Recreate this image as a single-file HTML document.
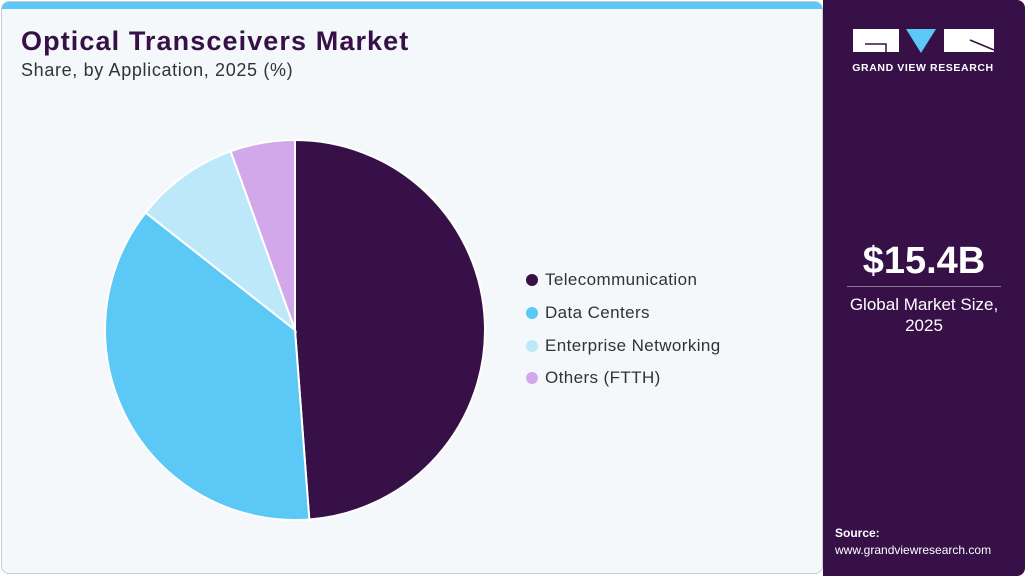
<!DOCTYPE html>
<html><head><meta charset="utf-8"><style>
body{margin:0;width:1025px;height:576px;overflow:hidden;background:#fff;font-family:"Liberation Sans",sans-serif;position:relative}
#left{position:absolute;left:1px;top:1px;width:822px;height:573px;background:#f4f8fb;border:1px solid #c9cdd2;border-radius:8px;overflow:hidden;box-sizing:border-box}
#topbar{position:absolute;left:0;top:0;width:100%;height:7px;background:#5bc8f5}
#right{position:absolute;left:823px;top:0;width:202px;height:576px;background:#361046;border-radius:0 8px 8px 0}
h1{position:absolute;left:21px;top:26px;margin:0;font-size:27px;font-weight:bold;color:#361046;letter-spacing:1.1px}
#sub{position:absolute;left:21px;top:60px;font-size:18px;color:#333;letter-spacing:0.65px}
.leg{position:absolute;left:526px;font-size:17px;color:#333;letter-spacing:0.4px}
.leg span{display:inline-block;width:12px;height:12px;border-radius:50%;margin-right:7px;vertical-align:-1px}
</style></head><body>
<div id="left">
<div id="topbar"></div>
</div>
<h1>Optical Transceivers Market</h1>
<div id="sub">Share, by Application, 2025 (%)</div>
<svg id="pie" width="823" height="576" style="position:absolute;left:0;top:0"></svg>
<div class="leg" style="top:270px"><span style="background:#361046"></span>Telecommunication</div>
<div class="leg" style="top:303px"><span style="background:#5bc8f5"></span>Data Centers</div>
<div class="leg" style="top:336px"><span style="background:#bde8f9"></span>Enterprise Networking</div>
<div class="leg" style="top:368px"><span style="background:#d3a8ea"></span>Others (FTTH)</div>
<div id="right">
<svg width="202" height="80">
<rect x="30" y="29" width="46" height="23" fill="#fff"/>
<path d="M42 44 H63 V52" stroke="#361046" stroke-width="1.5" fill="none"/>
<polygon points="83,29 113,29 98,53" fill="#5bc8f5"/>
<rect x="121" y="29" width="50" height="23" fill="#fff"/>
<path d="M147 40 L171 50" stroke="#361046" stroke-width="1.5"/>
<text x="100" y="71" text-anchor="middle" fill="#fff" font-size="10.5" font-weight="bold" letter-spacing="0.6" font-family="Liberation Sans">GRAND VIEW RESEARCH</text>
</svg>
<div style="position:absolute;left:0;width:202px;top:240px;text-align:center;color:#fff;font-size:38px;font-weight:bold">$15.4B</div>
<div style="position:absolute;left:24px;width:154px;top:286px;border-top:1px solid #8a7396"></div>
<div style="position:absolute;left:0;width:202px;top:294px;text-align:center;color:#fff;font-size:17px;line-height:21px">Global Market Size,<br>2025</div>
<div style="position:absolute;left:12px;top:526px;color:#fff;font-size:12px;font-weight:bold">Source:</div>
<div style="position:absolute;left:12px;top:543px;color:#fff;font-size:12px">www.grandviewresearch.com</div>
</div>
<script>
const categories=["Telecommunication","Data Centers","Enterprise Networking","Others (FTTH)"];
const values=[48.8,36.8,8.9,5.5];
const colors=["#361046","#5bc8f5","#bde8f9","#d3a8ea"];
const svg=document.getElementById('pie');
const cx=295,cy=330,r=190;
const total=values.reduce((a,b)=>a+b,0);
let a0=0;
function pt(a){return [cx+r*Math.sin(a),cy-r*Math.cos(a)];}
values.forEach((v,i)=>{
 const a1=a0+v/total*2*Math.PI;
 const p0=pt(a0),p1=pt(a1);
 const large=(a1-a0)>Math.PI?1:0;
 const p=document.createElementNS('http://www.w3.org/2000/svg','path');
 p.setAttribute('d',`M${cx},${cy} L${p0[0]},${p0[1]} A${r},${r} 0 ${large} 1 ${p1[0]},${p1[1]} Z`);
 p.setAttribute('fill',colors[i]);
 p.setAttribute('stroke','#fff');
 p.setAttribute('stroke-width','2');
 
 
 svg.appendChild(p);
 a0=a1;
});
</script>
</body></html>
